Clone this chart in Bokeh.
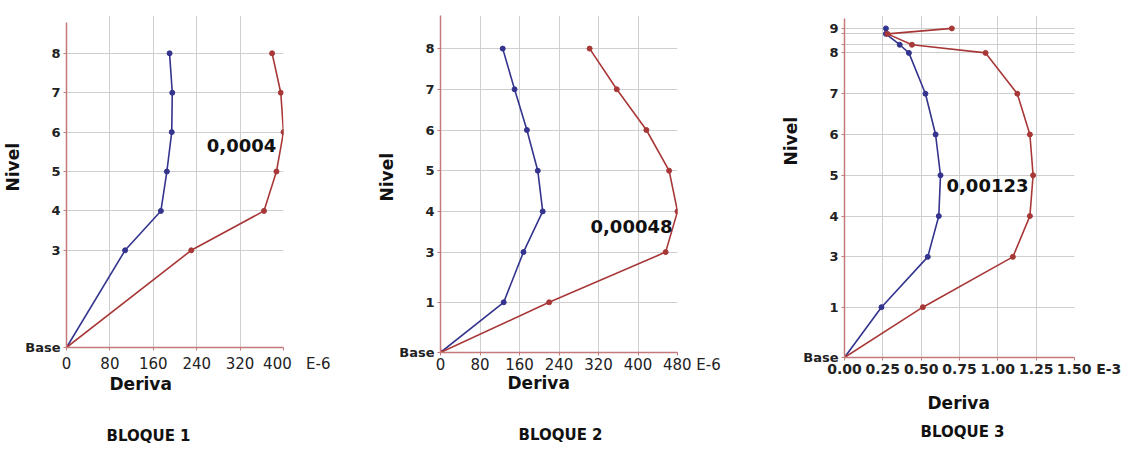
import math
from bokeh.plotting import figure
from bokeh.layouts import row
from bokeh.models import FixedTicker, Label, Title
from bokeh.embed import file_html
from bokeh.resources import INLINE

# ---------------- data ----------------
# storey heights (m) and their labels
b1_levels = ["Base", "3", "4", "5", "6", "7", "8"]
b1_height = [0, 7.4, 10.4, 13.4, 16.4, 19.4, 22.4]
b1_blue = [0, 108, 174, 185, 194, 195, 190]          # E-6
b1_red = [0, 230, 364, 387, 400, 395, 379]           # E-6
b1_xticks = [0, 80, 160, 240, 320, 400]

b2_levels = ["Base", "1", "3", "4", "5", "6", "7", "8"]
b2_height = [0, 3.7, 7.4, 10.4, 13.4, 16.4, 19.4, 22.4]
b2_blue = [0, 128, 168, 207, 197, 175, 150, 126]     # E-6
b2_red = [0, 220, 456, 480, 463, 417, 357, 302]      # E-6
b2_xticks = [0, 80, 160, 240, 320, 400, 480]

b3_levels = ["Base", "1", "3", "4", "5", "6", "7", "8", "", "", "9"]
b3_height = [0, 3.7, 7.4, 10.4, 13.4, 16.4, 19.4, 22.4, 23.0, 23.8, 24.2]
b3_blue = [0, 0.241, 0.543, 0.615, 0.626, 0.594, 0.528, 0.42, 0.36, 0.27, 0.27]   # E-3
b3_red = [0, 0.511, 1.098, 1.209, 1.23, 1.209, 1.127, 0.92, 0.44, 0.28, 0.70]     # E-3
b3_xticks = [0, 0.25, 0.5, 0.75, 1.0, 1.25, 1.5]
b3_xlabels = ["0.00", "0.25", "0.50", "0.75", "1.00", "1.25", "1.50"]

titles = ["BLOQUE 1", "BLOQUE 2", "BLOQUE 3"]
max_labels = ["0,0004", "0,00048", "0,00123"]
units = ["E-6", "E-6", "E-3"]
y_title = "Nivel"
x_title = "Deriva"

BLUE = "#34348f"
RED = "#a83838"
AXIS = "#c47a7a"
GRID = "#cfcfcf"
FONT = "DejaVu Sans"
FS = "\u2007"   # figure space
NB = "\u00a0"   # no-break space


def spacer(gap):
    # a tiny white title used only to open vertical space below the axis
    return Title(text="-", standoff=gap, text_font=FONT, text_font_size="1px",
                 text_color="white")


def panel(levels, heights, blue, red, xticks, xlabels, xmax, ymax, ybound,
          fw, fh, bl, br, bt, bb, lay, xbold, xfs, xstand):
    p = figure(frame_width=fw, frame_height=fh,
               min_border_left=bl, min_border_right=br,
               min_border_top=bt, min_border_bottom=bb,
               x_range=(0, xmax), y_range=(0, ymax),
               output_backend="svg", toolbar_location=None)
    p.outline_line_color = None
    p.background_fill_color = "white"
    p.border_fill_color = "white"

    p.xaxis.ticker = FixedTicker(ticks=xticks)
    p.xaxis.major_label_overrides = {t: l for t, l in zip(xticks, xlabels)}
    p.yaxis.ticker = FixedTicker(ticks=heights)
    p.yaxis.major_label_overrides = {h: l for h, l in zip(heights, levels)}
    p.yaxis.bounds = (0, ybound)

    for ax in (p.xaxis, p.yaxis):
        ax.axis_line_color = AXIS
        ax.axis_line_width = 1.5
        ax.major_tick_line_color = AXIS
        ax.major_tick_in = 0
        ax.major_tick_out = 3
        ax.minor_tick_line_color = None
        ax.major_label_text_font = FONT
        ax.major_label_text_color = "#222222"
    p.xaxis.major_label_text_font_size = xfs
    p.xaxis.major_label_text_font_style = "bold" if xbold else "normal"
    p.xaxis.major_label_standoff = xstand
    p.yaxis.major_label_text_font_size = "13px"
    p.yaxis.major_label_text_font_style = "bold"
    p.yaxis.major_label_standoff = 3

    p.xgrid.grid_line_color = GRID
    p.ygrid.grid_line_color = GRID

    p.line(blue, heights, line_color=BLUE, line_width=1.6)
    p.scatter(blue, heights, size=5, color=BLUE)
    p.line(red, heights, line_color=RED, line_width=1.6)
    p.scatter(red, heights, size=5, color=RED)

    n_off, gap1, d_off, d_st, gap2, t_off, (mx, my), title, mlab = lay
    p.add_layout(Title(text=y_title, align="left", offset=n_off, standoff=0,
                       text_font=FONT, text_font_style="bold", text_font_size="17px",
                       text_color="#111111"), "left")
    if gap1 is not None:
        p.add_layout(spacer(gap1), "below")
    p.add_layout(Title(text=x_title, align="left", offset=d_off, standoff=d_st,
                       vertical_align="top",
                       text_font=FONT, text_font_style="bold", text_font_size="17px",
                       text_color="#111111"), "below")
    p.add_layout(spacer(gap2), "below")
    p.add_layout(Title(text=title, align="left", offset=t_off, standoff=0,
                       vertical_align="bottom",
                       text_font=FONT, text_font_style="bold", text_font_size="15px",
                       text_color="#111111"), "below")
    p.add_layout(Label(x=mx, y=my, x_units="screen", y_units="screen", text=mlab,
                       text_align="center", text_baseline="middle",
                       text_font=FONT, text_font_style="bold", text_font_size="18px",
                       text_color="#111111"))
    return p


lab1 = [str(t) for t in b1_xticks]
lab1[-1] = FS * 4 + lab1[-1] + FS + NB + units[0]
lab2 = [str(t) for t in b2_xticks]
lab2[-1] = FS * 3 + lab2[-1] + NB + units[1]
lab3 = list(b3_xlabels)
lab3[-1] = FS * 3 + lab3[-1] + NB + units[2]

p1 = panel(b1_levels, b1_height, b1_blue, b1_red, b1_xticks, lab1, 400, 25.28, 24.75,
           217, 332, 66, 47, 15, 109,
           (156, None, 43, -4, 28, 40, (175, 202), titles[0], max_labels[0]),
           False, "15px", 4)
p2 = panel(b2_levels, b2_height, b2_blue, b2_red, b2_xticks, lab2, 480, 24.84, 24.84,
           237, 337, 110, 83, 15, 104,
           (151, None, 67, -8, 30, 78, (191, 126), titles[1], max_labels[1]),
           False, "15px", 0)
p3 = panel(b3_levels, b3_height, b3_blue, b3_red, b3_xticks, lab3, 1.5, 25.15, 24.93,
           230, 342, 84, 55, 15, 99,
           (192, 10, 83, 0, 3, 76, (143, 172), titles[2], max_labels[2]),
           True, "14px", 0)

layout = row(p1, p2, p3)
open("out.html", "w").write(file_html(layout, INLINE))
